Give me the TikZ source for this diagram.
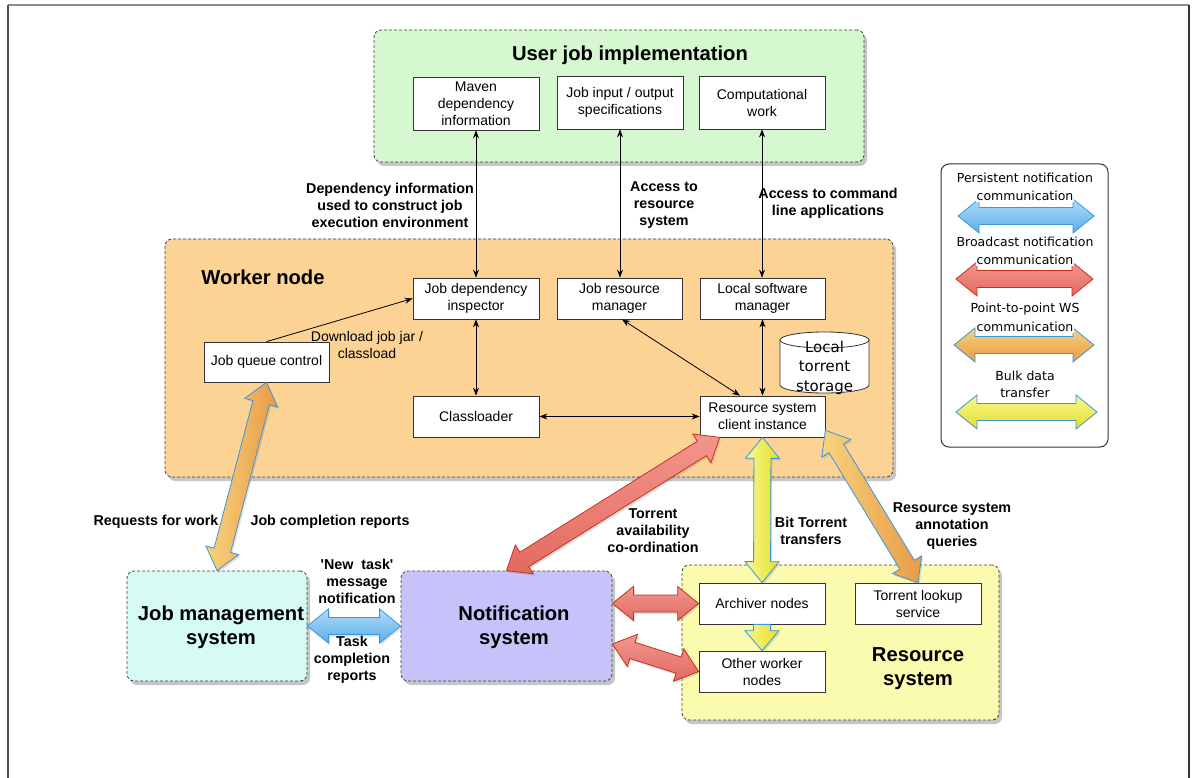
\documentclass[tikz,border=0pt]{standalone}
\usepackage{fontspec}
\setmainfont{Liberation Sans}
\newfontfamily\lgfont{DejaVu Sans}
\usetikzlibrary{calc,shadows,arrows.meta}

\definecolor{ujfill}{HTML}{D6F8D0}
\definecolor{wnfill}{HTML}{FDD395}
\definecolor{jmfill}{HTML}{D5FBF4}
\definecolor{nsfill}{HTML}{C6C3FB}
\definecolor{rsfill}{HTML}{FBFBB0}
\definecolor{edgeblue}{HTML}{3A96DC}
\definecolor{bluelt}{HTML}{B0DCF8}
\definecolor{bluedk}{HTML}{5AAEE8}
\definecolor{redlt}{HTML}{F2968E}
\definecolor{reddk}{HTML}{E26A60}
\definecolor{rededge}{HTML}{C8301E}
\definecolor{orlt}{HTML}{F7D27C}
\definecolor{ordk}{HTML}{E99A46}
\definecolor{yellt}{HTML}{F8F890}
\definecolor{yeldk}{HTML}{E4DE2A}

% broad double-headed arrow between two named points: #1 style, #2 and #3 tips
\newcommand{\fatdouble}[3]{%
  \coordinate (fa1) at ($(#2)!21pt!(#3)$);
  \coordinate (fa2) at ($(#3)!21pt!(#2)$);
  \path[#1] (#2) -- ($(fa1)!17pt!90:(#3)$) -- ($(fa1)!8.5pt!90:(#3)$)
    -- ($(fa2)!8.5pt!-90:(#2)$) -- ($(fa2)!17pt!-90:(#2)$) -- (#3)
    -- ($(fa2)!17pt!90:(#2)$) -- ($(fa2)!8.5pt!90:(#2)$)
    -- ($(fa1)!8.5pt!-90:(#3)$) -- ($(fa1)!17pt!-90:(#3)$) -- cycle;}
% broad single-headed arrow from #2 to the tip #3
\newcommand{\fatsingle}[3]{%
  \coordinate (fa2) at ($(#3)!20pt!(#2)$);
  \path[#1] ($(#2)!8.5pt!90:(#3)$) -- ($(fa2)!8.5pt!-90:(#2)$)
    -- ($(fa2)!17pt!-90:(#2)$) -- (#3) -- ($(fa2)!17pt!90:(#2)$)
    -- ($(fa2)!8.5pt!90:(#2)$) -- ($(#2)!8.5pt!-90:(#3)$) -- cycle;}

\begin{document}
\begin{tikzpicture}[x=1pt,y=-1pt,
  cont/.style={draw=black!75, dash pattern=on 3pt off 2pt, line width=0.8,
    rounded corners=7, inner sep=0,
    drop shadow={shadow xshift=3pt, shadow yshift=-4pt, opacity=0.45}},
  box/.style={draw=black!80, line width=0.7, fill=white, minimum width=126,
    minimum height=41, align=center, inner sep=1,
    font=\fontsize{14}{17}\selectfont},
  conn/.style={{Stealth[length=8pt,width=6pt]}-{Stealth[length=8pt,width=6pt]}, line width=0.8},
  oneway/.style={-{Stealth[length=8pt,width=6pt]}, line width=0.8},
  lbl/.style={font=\bfseries\fontsize{14.3}{17}\selectfont, align=center, inner sep=0},
  plain/.style={font=\fontsize{14}{17}\selectfont, align=center, inner sep=0},
  title/.style={font=\bfseries\fontsize{20.2}{24.5}\selectfont, align=center, inner sep=0},
  lgtext/.style={font=\lgfont\fontsize{12.5}{17}\selectfont, inner sep=1},
  fatshadow/.style={drop shadow={shadow xshift=1.5pt, shadow yshift=-2pt, opacity=0.25}},
  bluefat/.style={top color=bluelt, bottom color=bluedk, draw=edgeblue, line width=0.8},
  redfat/.style={top color=redlt, bottom color=reddk, draw=rededge, line width=0.8},
  orfat/.style={top color=orlt, bottom color=ordk, draw=edgeblue, line width=0.8},
  yelfat/.style={top color=yellt, bottom color=yeldk, draw=edgeblue, line width=0.8},
  orfatv/.style={left color=orlt, right color=ordk, draw=edgeblue, line width=0.8},
  yelfatv/.style={left color=yellt, right color=yeldk, draw=edgeblue, line width=0.8},
]
\useasboundingbox (0,0) rectangle (1197,778);

% page frame
\draw[line width=1.2, black!45] (8,5) -- (1189,5);
\draw[line width=1.6, black!70] (8,778) -- (8,5);
\draw[line width=1.6, black!80] (1189,5) -- (1189,778);

% containers
\node[cont, fill=ujfill, minimum width=490, minimum height=132] (uji) at (619,96) {};
\node[cont, fill=wnfill, minimum width=728, minimum height=238] (wn) at (529,358) {};
\node[cont, fill=jmfill, minimum width=180, minimum height=110] (jms) at (217,626) {};
\node[cont, fill=nsfill, minimum width=211, minimum height=110] (ns) at (506.5,626) {};
\node[cont, fill=rsfill, minimum width=317, minimum height=155] (rs) at (840.5,642.5) {};

% titles
\node[title] (ujit) at (630,55) {User job implementation};
\node[title] (wnt) at (263,277) {Worker node};
\node[title] (jmst) at (221,627.5) {Job management\\system};
\node[title] (nst) at (514,627.5) {Notification\\system};
\node[title] (rst) at (918,668.5) {Resource\\system};

% user job boxes
\node[box, minimum height=53] (maven) at (476,103.5) {Maven\\dependency\\information};
\node[box, minimum height=53] (jobio) at (620,102.5) {Job input / output\\specifications};
\node[box, minimum height=53] (comp) at (762,102.5) {Computational\\work};

% worker node boxes
\node[box] (jdi) at (476,298.5) {Job dependency\\inspector};
\node[box, minimum width=125] (jrm) at (619.5,298.5) {Job resource\\manager};
\node[box, minimum width=125] (lsm) at (762.5,298.5) {Local software\\manager};
\node[box, minimum width=125, minimum height=40] (jqc) at (266.5,362) {Job queue control};
\node[box] (cl) at (476,416.5) {Classloader};
\node[box, minimum width=125] (rsc) at (762.5,416.5) {Resource system\\client instance};

% local torrent storage cylinder
\filldraw[fill=white, draw=black!80, line width=0.8] (780,340) -- (780,385)
  .. controls (780,389.4) and (799.9,393) .. (824.5,393)
  .. controls (849.1,393) and (869,389.4) .. (869,385) -- (869,340) -- cycle;
\filldraw[fill=white, draw=black!80, line width=0.8] (824.5,340) ellipse [x radius=44.5, y radius=8];
\node[font=\lgfont\fontsize{15}{19.5}\selectfont, align=center, inner sep=0] (lts) at (824.5,367.5) {Local\\torrent\\storage};

% resource system boxes
\node[box] (arch) at (762,603.5) {Archiver nodes};
\node[box] (tls) at (918,603.5) {Torrent lookup\\service};
\node[box] (own) at (762,671.5) {Other worker\\nodes};

% thin connectors
\draw[conn] (maven.south) -- (maven.south |- jdi.north);
\draw[conn] (jobio.south) -- (jobio.south |- jrm.north);
\draw[conn] (comp.south) -- (comp.south |- lsm.north);
\draw[oneway] (jqc.north) -- (jdi.west);
\draw[conn] (jdi.south) -- (cl.north);
\draw[conn] (cl.east) -- (rsc.west);
\coordinate (jrmS) at ([xshift=2.5pt]jrm.south);
\coordinate (rscN) at ([xshift=-22.5pt]rsc.north);
\draw[conn] (jrmS) -- (rscN);
\draw[conn] (lsm.south) -- (rsc.north);

% broad connectors
\coordinate (rscSW) at ([xshift=20pt]rsc.south west);
\coordinate (rscSE) at ([yshift=7pt]rsc.south east);
\coordinate (nsA) at (ns.east |- arch.west);
\coordinate (nsB) at ([yshift=-18pt]ns.east);
\fatdouble{orfatv, fatshadow}{jqc.south}{jms.north}
\fatdouble{redfat, fatshadow}{ns.north}{rscSW}
\fatdouble{yelfatv, fatshadow}{rsc.south}{arch.north}
\fatsingle{yelfatv, fatshadow}{arch.south}{own.north}
\fatdouble{orfatv, fatshadow}{rscSE}{tls.north}
\fatdouble{bluefat, fatshadow}{jms.east}{ns.west}
\fatdouble{redfat, fatshadow}{nsA}{arch.west}
\fatdouble{redfat, fatshadow}{nsB}{own.west}

% connector labels
\node[lbl] (ldep) at (390,205) {Dependency information\\used to construct job\\execution environment};
\node[lbl] (lacr) at (664,205) {Access to\\resource\\system};
\node[lbl] (lacc) at (828,203.5) {Access to command\\line applications};
\node[plain] (ldl) at (367,344.5) {Download job jar /\\classload};
\node[lbl] (lreq) at (156,522) {Requests for work};
\node[lbl] (ljcr) at (330,522) {Job completion reports};
\node[lbl] (lnew) at (357,581) {\textquotesingle New\ \ task\textquotesingle\\message\\notification};
\node[lbl] (ltcr) at (352,660) {Task\\completion\\reports};
\node[lbl] (ltav) at (653,531) {Torrent\\availability\\co-ordination};
\node[lbl] (lbit) at (811,530.5) {Bit Torrent\\transfers};
\node[lbl] (lrsa) at (952,526) {Resource system\\annotation\\queries};

% legend
\node[draw=black!80, line width=1, rounded corners=8, fill=white,
  minimum width=167, minimum height=283] (legend) at (1024.5,305.5) {};
\coordinate (l1a) at (958,216);  \coordinate (l1b) at (1094,216);
\coordinate (l2a) at (956,279);  \coordinate (l2b) at (1093,279);
\coordinate (l3a) at (954,345);  \coordinate (l3b) at (1094,345);
\coordinate (l4a) at (956,412);  \coordinate (l4b) at (1097,412);
\fatdouble{bluefat}{l1a}{l1b}
\fatdouble{redfat}{l2a}{l2b}
\fatdouble{orfat}{l3a}{l3b}
\fatdouble{yelfat}{l4a}{l4b}
\node[lgtext] (lg1a) at (1025,178) {Persistent notification};
\node[lgtext, fill=white] (lg1b) at (1025,196) {communication};
\node[lgtext] (lg2a) at (1025,242) {Broadcast notification};
\node[lgtext, fill=white] (lg2b) at (1025,260) {communication};
\node[lgtext] (lg3a) at (1025,309) {Point-to-point WS};
\node[lgtext, fill=white] (lg3b) at (1025,327) {communication};
\node[lgtext] (lg4a) at (1025,376) {Bulk data};
\node[lgtext, fill=white] (lg4b) at (1025,393) {transfer};
\end{tikzpicture}
\end{document}
